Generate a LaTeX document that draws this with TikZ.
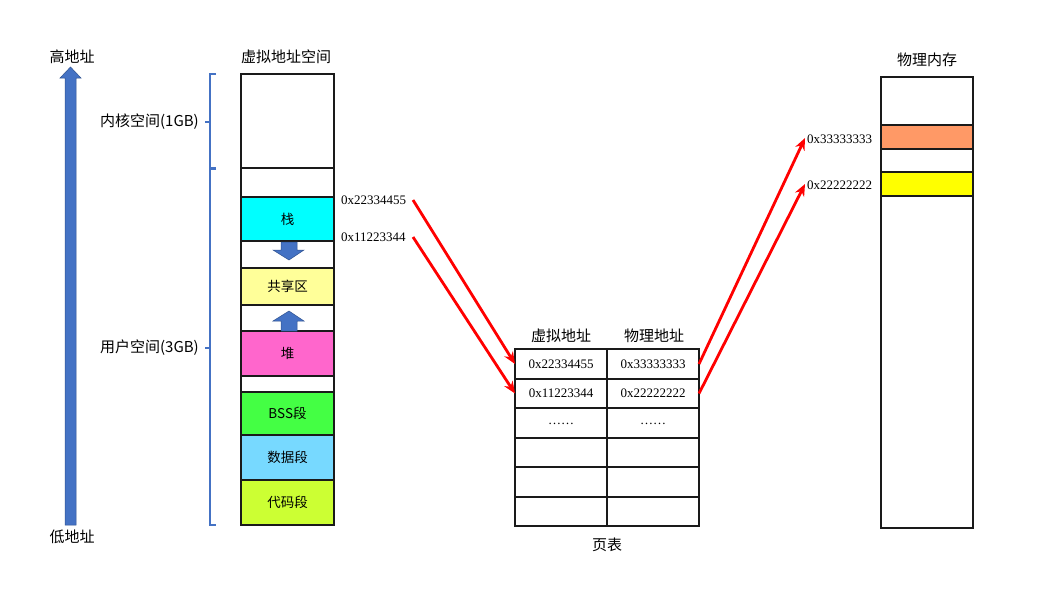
\documentclass[tikz,border=0pt]{standalone}
\usepackage{fontspec}
\setmainfont{Liberation Serif}
\newfontfamily\cjk{Noto Sans CJK SC}
\usetikzlibrary{arrows.meta}
\definecolor{bluearr}{HTML}{4472C4}
\definecolor{bluedark}{HTML}{2F528F}
\definecolor{cstack}{HTML}{00FFFF}
\definecolor{cshare}{HTML}{FFFF99}
\definecolor{cheap}{HTML}{FF66CC}
\definecolor{cbss}{HTML}{44FF44}
\definecolor{cdata}{HTML}{77D9FF}
\definecolor{ccode}{HTML}{CCFF33}
\definecolor{corange}{HTML}{FF9966}
\definecolor{cyel}{HTML}{FFFF00}
\definecolor{linec}{HTML}{1A1A1A}
\def\tdots{\raisebox{-3pt}{……}}
\begin{document}
\begin{tikzpicture}[x=1pt,y=-1pt,
  seg/.style={draw=linec,line width=1.8pt,inner sep=0pt,outer sep=0pt,minimum width=93pt,font=\cjk\fontsize{13.5}{14}\selectfont},
  cell/.style={draw=linec,line width=1.6pt,inner sep=0pt,outer sep=0pt,minimum width=92pt,minimum height=29.5pt,font=\fontsize{13}{14}\selectfont},
  lbl/.style={font=\cjk\fontsize{15}{16}\selectfont,inner sep=0pt},
  hex/.style={font=\fontsize{13}{14}\selectfont,inner sep=0pt},
  redarr/.style={draw=red,line width=2.8pt,-{Stealth[length=12pt,width=10pt]}},
  brace/.style={draw=bluearr,line width=1.2pt},
  fatarr/.style={fill=bluearr,draw=bluedark,line width=0.5pt}
]
\useasboundingbox (0,0) rectangle (1059,600);

% big address arrow
\draw[fatarr] (65,525) -- (65,78) -- (60,78) -- (70.5,67) -- (81,78) -- (76,78) -- (76,525) -- cycle;
\node[lbl] (hi) at (72,57) {高地址};
\node[lbl] (lo) at (72,537) {低地址};

% virtual address space
\node[lbl] (vtitle) at (286,57) {虚拟地址空间};
\node[seg,minimum height=94pt] (kern) at (287.5,121) {};
\node[seg,minimum height=29pt,line width=1.2pt] (gap1) at (287.5,182.5) {};
\node[seg,minimum height=44pt,fill=cstack] (stack) at (287.5,219) {栈};
\node[seg,minimum height=27pt,line width=1.2pt] (gap2) at (287.5,254.5) {};
\node[seg,minimum height=37pt,fill=cshare] (share) at (287.5,286.5) {共享区};
\node[seg,minimum height=26pt,line width=1.2pt] (gap3) at (287.5,318) {};
\node[seg,minimum height=45pt,fill=cheap] (heap) at (287.5,353.5) {堆};
\node[seg,minimum height=16pt,line width=1.2pt] (gap4) at (287.5,384) {};
\node[seg,minimum height=43pt,fill=cbss] (bss) at (287.5,413.5) {BSS段};
\node[seg,minimum height=45pt,fill=cdata] (data) at (287.5,457.5) {数据段};
\node[seg,minimum height=45pt,fill=ccode] (code) at (287.5,502.5) {代码段};

% growth arrows
\draw[fatarr] (281,242) -- (297,242) -- (297,250) -- (304,250) -- (289,260) -- (273,250) -- (281,250) -- cycle;
\draw[fatarr] (281,331) -- (297,331) -- (297,321) -- (304,321) -- (289,311) -- (273,321) -- (281,321) -- cycle;

% braces
\draw[brace] (216,74) -- (210,74) -- (210,168) -- (216,168);
\draw[brace] (210,122) -- (205,122);
\draw[brace] (216,169.5) -- (210,169.5) -- (210,525) -- (216,525);
\draw[brace] (210,348) -- (205,348);
\node[lbl,anchor=east] (klbl) at (199,122) {内核空间(1GB)};
\node[lbl,anchor=east] (ulbl) at (199,348) {用户空间(3GB)};

% virtual hex labels
\node[hex,anchor=west] (v1) at (341,200) {0x22334455};
\node[hex,anchor=west] (v2) at (341,237) {0x11223344};
\coordinate (v1e) at (413,200);
\coordinate (v2e) at (413,237);

% page table
\node[lbl] (th1) at (561,336) {虚拟地址};
\node[lbl] (th2) at (654,336) {物理地址};
\foreach \i/\a/\b in {0/0x22334455/0x33333333,1/0x11223344/0x22222222,2/\tdots/\tdots,3//,4//,5//}{
  \node[cell] (l\i) at (561,364+29.5*\i) {\a};
  \node[cell] (r\i) at (653,364+29.5*\i) {\b};
}
\node[lbl] (ptitle) at (607,545) {页表};

% physical memory
\node[lbl] (ptit) at (927,60) {物理内存};
\node[seg,minimum height=451pt,minimum width=92pt] (phys) at (927,302.5) {};
\node[seg,minimum height=24pt,minimum width=92pt,fill=corange] (p3) at (927,137) {};
\node[seg,minimum height=24pt,minimum width=92pt,fill=cyel] (p2) at (927,184) {};
\node[hex,anchor=west] (a3) at (807,139) {0x33333333};
\node[hex,anchor=west] (a2) at (807,185) {0x22222222};
\coordinate (a3s) at (805,138);
\coordinate (a2s) at (805,184);

% red mapping arrows
\draw[redarr] (v1e) -- (l0.west);
\draw[redarr] (v2e) -- (l1.west);
\draw[redarr] (r0.east) -- (a3s);
\draw[redarr] (r1.east) -- (a2s);
\end{tikzpicture}
\end{document}
